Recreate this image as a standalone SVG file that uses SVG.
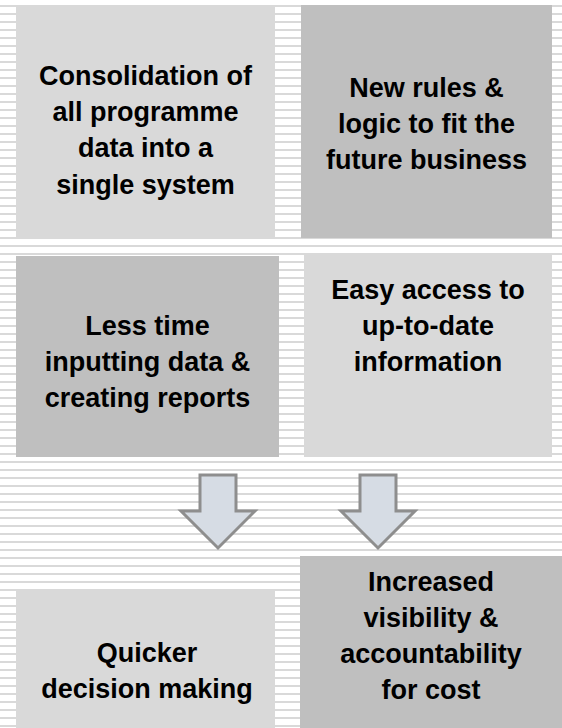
<svg xmlns="http://www.w3.org/2000/svg" width="562" height="728" viewBox="0 0 562 728">
<defs>
<pattern id="stripes" x="0" y="5" width="8" height="8" patternUnits="userSpaceOnUse">
<rect x="0" y="0" width="8" height="2" fill="#d9d9d9"/>
</pattern>
<style>
.light{fill:#d9d9d9}
.dark{fill:#bfbfbf}
.t{font-family:"Liberation Sans",Arial,sans-serif;font-weight:bold;font-size:27px;fill:#000;text-anchor:middle}
.arrow{fill:#d6dce4;stroke:#8e8e8e;stroke-width:3;stroke-linejoin:miter}
</style>
</defs>
<rect x="0" y="0" width="562" height="728" fill="#fff"/>
<rect x="0" y="0" width="562" height="728" fill="url(#stripes)"/>
<g id="n1">
<rect class="light" x="16" y="5" width="259" height="233"/>
<text class="t" x="145.5" y="85">Consolidation of</text>
<text class="t" x="145.5" y="121">all programme</text>
<text class="t" x="145.5" y="157">data into a</text>
<text class="t" x="145.5" y="194">single system</text>
</g>
<g id="n2">
<rect class="dark" x="301" y="5" width="251" height="233"/>
<text class="t" x="426.5" y="97">New rules &amp;</text>
<text class="t" x="426.5" y="133">logic to fit the</text>
<text class="t" x="426.5" y="169">future business</text>
</g>
<g id="n3">
<rect class="dark" x="16" y="256" width="263" height="201"/>
<text class="t" x="147.5" y="335">Less time</text>
<text class="t" x="147.5" y="371">inputting data &amp;</text>
<text class="t" x="147.5" y="407">creating reports</text>
</g>
<g id="n4">
<rect class="light" x="304" y="254" width="248" height="203"/>
<text class="t" x="428" y="299">Easy access to</text>
<text class="t" x="428" y="335">up-to-date</text>
<text class="t" x="428" y="371">information</text>
</g>
<g id="n5">
<rect class="light" x="16" y="590" width="259" height="138"/>
<text class="t" x="147" y="662">Quicker</text>
<text class="t" x="147" y="698">decision making</text>
</g>
<g id="n6">
<rect class="dark" x="300" y="556" width="262" height="172"/>
<text class="t" x="431" y="591">Increased</text>
<text class="t" x="431" y="627">visibility &amp;</text>
<text class="t" x="431" y="663">accountability</text>
<text class="t" x="431" y="699">for cost</text>
</g>
<g id="connectors">
<path class="arrow" d="M200,475 H236 V511 H255 L218,548 L181,511 H200 Z"/>
<path class="arrow" d="M360,475 H396 V511 H415 L378,548 L341,511 H360 Z"/>
</g>
</svg>
